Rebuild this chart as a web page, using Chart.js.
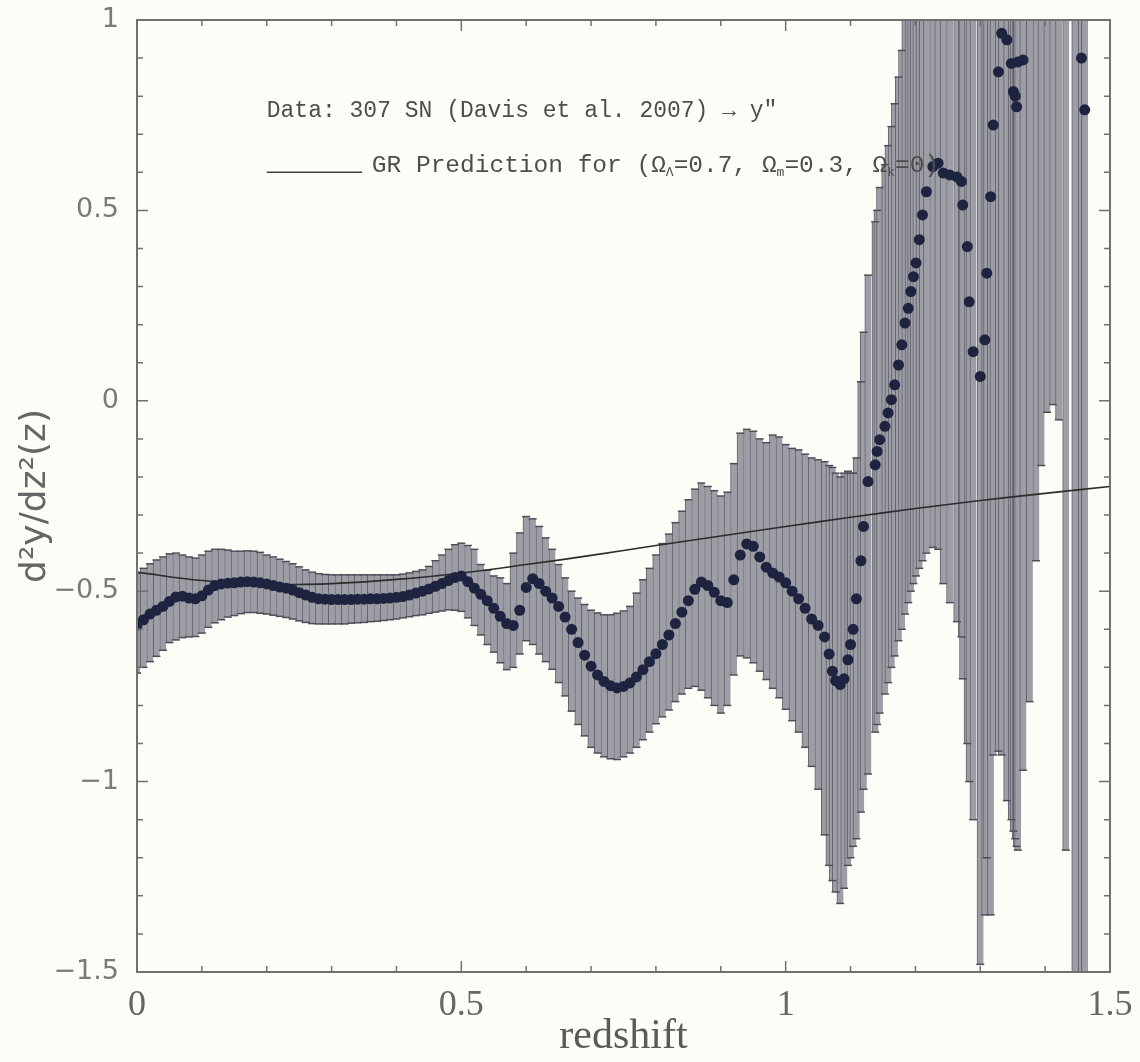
<!DOCTYPE html>
<html>
<head>
<meta charset="utf-8">
<script src="https://cdn.jsdelivr.net/npm/chart.js@4.4.1/dist/chart.umd.min.js"></script>
<style>
  html, body { margin: 0; padding: 0; background: #fdfdf8; }
  .box { width: 1140px; height: 1062px; position: relative; }
</style>
</head>
<body>
<div class="box"><canvas class="chr"></canvas></div>
<script>
// redshift of each SN bin
const zs = [
  0.00, 0.01, 0.02, 0.03, 0.04, 0.05, 0.06, 0.07, 0.08, 0.09,
  0.10, 0.11, 0.12, 0.13, 0.14, 0.15, 0.16, 0.17, 0.18, 0.19,
  0.20, 0.21, 0.22, 0.23, 0.24, 0.25, 0.26, 0.27, 0.28, 0.29,
  0.30, 0.31, 0.32, 0.33, 0.34, 0.35, 0.36, 0.37, 0.38, 0.39,
  0.40, 0.41, 0.42, 0.43, 0.44, 0.45, 0.46, 0.47, 0.48, 0.49,
  0.50, 0.51, 0.52, 0.53, 0.54, 0.55, 0.56, 0.57, 0.58, 0.59,
  0.60, 0.61, 0.62, 0.63, 0.64, 0.65, 0.66, 0.67, 0.68, 0.69,
  0.70, 0.71, 0.72, 0.73, 0.74, 0.75, 0.76, 0.77, 0.78, 0.79,
  0.80, 0.81, 0.82, 0.83, 0.84, 0.85, 0.86, 0.87, 0.88, 0.89,
  0.90, 0.91, 0.92, 0.93, 0.94, 0.95, 0.96, 0.97, 0.98, 0.99,
  1.00, 1.01, 1.02, 1.03, 1.04, 1.05,
  1.06, 1.067, 1.072, 1.077, 1.084, 1.09, 1.096, 1.10, 1.104, 1.109,
  1.116, 1.12, 1.127, 1.138, 1.141, 1.145, 1.153, 1.158, 1.163, 1.168,
  1.174, 1.179, 1.184, 1.189, 1.193, 1.197, 1.201, 1.206, 1.211, 1.217,
  1.227, 1.235, 1.243, 1.253, 1.264, 1.271, 1.273, 1.28, 1.283, 1.289,
  1.30, 1.307, 1.31, 1.316, 1.32, 1.328, 1.333, 1.341, 1.348, 1.351,
  1.354, 1.356, 1.358, 1.366, 1.376, 1.386, 1.394, 1.403, 1.412, 1.421,
  1.432, 1.446, 1.456, 1.461
];

// d2y/dz2 values (dots)
const mid = [
  -0.59, -0.575, -0.56, -0.55, -0.54, -0.527, -0.515, -0.513, -0.518, -0.52,
  -0.512, -0.497, -0.485, -0.481, -0.479, -0.478, -0.476, -0.475, -0.476, -0.478,
  -0.481, -0.485, -0.489, -0.492, -0.497, -0.504, -0.51, -0.516, -0.52, -0.521,
  -0.522, -0.522, -0.522, -0.522, -0.521, -0.521, -0.52, -0.52, -0.519, -0.518,
  -0.516, -0.514, -0.51, -0.505, -0.5, -0.494, -0.487, -0.48, -0.472, -0.464,
  -0.46, -0.475, -0.492, -0.508, -0.525, -0.545, -0.566, -0.585, -0.59, -0.55,
  -0.49, -0.467, -0.48, -0.5, -0.518, -0.54, -0.568, -0.6, -0.635, -0.668,
  -0.697, -0.72, -0.737, -0.748, -0.754, -0.75, -0.741, -0.725, -0.706, -0.685,
  -0.664, -0.64, -0.615, -0.585, -0.555, -0.525, -0.495, -0.476, -0.485, -0.503,
  -0.525, -0.53, -0.47, -0.405, -0.376, -0.382, -0.41, -0.437, -0.452, -0.463,
  -0.478, -0.5, -0.52, -0.545, -0.573, -0.59,
  -0.62, -0.665, -0.71, -0.735, -0.745, -0.73, -0.68, -0.64, -0.6, -0.52,
  -0.42, -0.33, -0.212, -0.168, -0.133, -0.102, -0.067, -0.032, 0.003, 0.042,
  0.094, 0.147, 0.204, 0.243, 0.287, 0.326, 0.362, 0.423, 0.488, 0.549,
  0.615, 0.624, 0.598, 0.593, 0.588, 0.576, 0.514, 0.405, 0.26, 0.129,
  0.064, 0.16, 0.335, 0.536, 0.724, 0.864, 0.965, 0.948, 0.886, 0.812,
  0.8, 0.772, 0.89, 0.895, 1.1, 1.2, 1.3, 1.4, 1.4, 1.3,
  1.3, 1.2, 0.9, 0.764
];

// lower end of each error bar
const lo = [
  -0.715, -0.7, -0.685, -0.671, -0.655, -0.635, -0.628, -0.622, -0.62, -0.619,
  -0.61, -0.595, -0.583, -0.575, -0.568, -0.564, -0.559, -0.556, -0.556, -0.558,
  -0.56, -0.563, -0.566, -0.569, -0.573, -0.578, -0.582, -0.585, -0.586, -0.586,
  -0.586, -0.586, -0.586, -0.584, -0.583, -0.582, -0.58, -0.579, -0.577, -0.575,
  -0.573, -0.57, -0.567, -0.564, -0.562, -0.558, -0.555, -0.552, -0.549, -0.55,
  -0.553, -0.57, -0.59, -0.615, -0.64, -0.66, -0.688, -0.706, -0.7, -0.665,
  -0.63, -0.64, -0.665, -0.685, -0.705, -0.74, -0.775, -0.815, -0.85, -0.88,
  -0.91, -0.925, -0.935, -0.94, -0.942, -0.935, -0.925, -0.91, -0.89, -0.87,
  -0.848, -0.83, -0.812, -0.79, -0.77, -0.755, -0.75, -0.76, -0.78, -0.8,
  -0.82, -0.8, -0.72, -0.67, -0.675, -0.688, -0.71, -0.732, -0.755, -0.78,
  -0.81, -0.84, -0.87, -0.91, -0.96, -1.02,
  -1.14, -1.22, -1.26, -1.29, -1.32, -1.28, -1.22, -1.2, -1.17, -1.15,
  -1.08, -1.02, -0.98, -0.87, -0.85, -0.82, -0.77, -0.74, -0.7, -0.67,
  -0.63, -0.6, -0.56, -0.53, -0.5, -0.48, -0.46, -0.44, -0.42, -0.4,
  -0.385, -0.39, -0.48, -0.53, -0.58, -0.62, -0.73, -0.9, -1.0, -1.1,
  -1.48, -1.35, -1.2, -1.35, -0.93, -0.92, -0.93, -1.05, -1.1, -1.13,
  -1.15, -1.17, -1.18, -0.97, -0.79, -0.42, -0.17, -0.03, -0.01, -0.05,
  -1.18, -1.6, -1.6, -1.6
];

// upper end of each error bar
const hi = [
  -0.452, -0.44, -0.428, -0.418, -0.41, -0.402, -0.4, -0.405, -0.41, -0.413,
  -0.405, -0.395, -0.39, -0.39, -0.392, -0.395, -0.395, -0.394, -0.395, -0.398,
  -0.405, -0.41, -0.416, -0.422, -0.428, -0.436, -0.444, -0.45, -0.454, -0.456,
  -0.457, -0.457, -0.457, -0.457, -0.457, -0.457, -0.457, -0.457, -0.457, -0.457,
  -0.457, -0.455, -0.452, -0.448, -0.444, -0.435, -0.42, -0.405, -0.39, -0.378,
  -0.374, -0.38, -0.39, -0.43, -0.445, -0.46, -0.465, -0.48, -0.4, -0.347,
  -0.304, -0.31, -0.33, -0.36, -0.39, -0.43, -0.465, -0.5, -0.518, -0.535,
  -0.55, -0.557, -0.562, -0.562, -0.558, -0.552, -0.54, -0.505, -0.47, -0.44,
  -0.405, -0.375, -0.35, -0.32, -0.29, -0.26, -0.232, -0.216, -0.225, -0.236,
  -0.25, -0.24, -0.165, -0.085, -0.075, -0.08, -0.1, -0.11, -0.09, -0.095,
  -0.115, -0.125, -0.129, -0.14, -0.15, -0.155,
  -0.16, -0.17, -0.175, -0.19, -0.2, -0.19, -0.185, -0.19, -0.19, -0.15,
  0.05, 0.18, 0.33, 0.47, 0.5, 0.56, 0.62, 0.67, 0.72, 0.78,
  0.85, 0.92, 1.3, 1.4, 1.5, 1.6, 1.6, 1.7, 1.8, 1.9,
  2.0, 2.0, 2.0, 2.0, 2.0, 2.0, 2.0, 2.0, 2.0, 2.0,
  2.0, 2.0, 2.0, 2.0, 2.0, 2.0, 2.0, 2.0, 2.0, 2.0,
  2.0, 2.0, 2.0, 2.0, 2.2, 2.4, 2.5, 2.6, 2.6, 2.5,
  2.5, 2.5, 2.4, 2.4
];

// GR prediction (flat LCDM)
const grZ = [0, 0.1, 0.2, 0.3, 0.4, 0.5, 0.6, 0.7, 0.8, 0.9, 1.0, 1.1, 1.2, 1.3, 1.4, 1.5];
const grY = [-0.45, -0.472, -0.482, -0.48, -0.469, -0.452, -0.43, -0.406, -0.38, -0.355, -0.33, -0.306, -0.283, -0.262, -0.243, -0.225];

// tick marks on the frame
const xTicks = [0, 0.1, 0.2, 0.3, 0.4, 0.5, 0.6, 0.7, 0.8, 0.9, 1.0, 1.1, 1.2, 1.3, 1.4, 1.5];
const yTicks = [-1.5, -1.4, -1.3, -1.2, -1.1, -1, -0.9, -0.8, -0.7, -0.6, -0.5, -0.4, -0.3, -0.2, -0.1,
  0, 0.1, 0.2, 0.3, 0.4, 0.5, 0.6, 0.7, 0.8, 0.9, 1];

const isMajor = v => Math.abs(v * 2 - Math.round(v * 2)) < 1e-9;

// box + inward ticks on all four sides
const frame = {
  id: 'frame',
  afterDatasetsDraw(chart) {
    const { ctx, chartArea: a, scales: { x, y } } = chart;
    ctx.save();
    ctx.strokeStyle = '#707070';
    ctx.lineWidth = 1.5;
    ctx.beginPath();
    xTicks.forEach(v => {
      const px = x.getPixelForValue(v);
      const len = isMajor(v) ? 11 : 6;
      ctx.moveTo(px, a.bottom); ctx.lineTo(px, a.bottom - len);
      ctx.moveTo(px, a.top); ctx.lineTo(px, a.top + len);
    });
    yTicks.forEach(v => {
      const py = y.getPixelForValue(v);
      const len = isMajor(v) ? 11 : 6;
      ctx.moveTo(a.left, py); ctx.lineTo(a.left + len, py);
      ctx.moveTo(a.right, py); ctx.lineTo(a.right - len, py);
    });
    ctx.stroke();
    ctx.lineWidth = 2;
    ctx.strokeRect(a.left, a.top, a.right - a.left, a.bottom - a.top);
    ctx.restore();
  }
};

// the key written inside the plot
const key = {
  id: 'key',
  afterDatasetsDraw(chart) {
    const { ctx, scales: { x, y } } = chart;
    ctx.save();
    ctx.fillStyle = '#4d4d4d';
    ctx.textBaseline = 'middle';
    ctx.font = '23px "Liberation Mono"';
    ctx.fillText('Data: 307 SN (Davis et al. 2007) \u2192 y\u2033', x.getPixelForValue(0.2), y.getPixelForValue(0.76));

    const ly = y.getPixelForValue(0.6);
    ctx.strokeStyle = '#404040';
    ctx.lineWidth = 1.6;
    ctx.beginPath();
    ctx.moveTo(x.getPixelForValue(0.2), ly);
    ctx.lineTo(x.getPixelForValue(0.347), ly);
    ctx.stroke();

    let px = x.getPixelForValue(0.362);
    const ty = y.getPixelForValue(0.617);
    const parts = [['GR Prediction for (\u03A9', 0], ['\u039B', 1], ['=0.7, \u03A9', 0], ['m', 1], ['=0.3, \u03A9', 0], ['k', 1], ['=0)', 0]];
    parts.forEach(([t, sub]) => {
      ctx.font = sub ? '13px "Liberation Mono"' : '24.5px "Liberation Mono"';
      ctx.fillText(t, px, sub ? ty + 7 : ty);
      px += ctx.measureText(t).width;
    });
    ctx.restore();
  }
};

const c = document.querySelector('.chr');
new Chart(c, {
  type: 'scatter',
  data: {
    datasets: [
      {
        label: 'SN',
        data: zs.map((z, i) => ({ x: z, y: mid[i] })),
        pointRadius: 5.5,
        pointBackgroundColor: '#1e2440',
        pointBorderWidth: 0,
        order: 0
      },
      {
        type: 'line',
        label: 'GR',
        data: grZ.map((z, i) => ({ x: z, y: grY[i] })),
        borderColor: '#2c2c2c',
        borderWidth: 1.6,
        pointRadius: 0,
        tension: 0.4,
        fill: false,
        order: 1
      },
      {
        label: 'upper cap',
        data: zs.map((z, i) => ({ x: z, y: hi[i] })),
        pointStyle: 'line',
        pointRadius: 4,
        borderColor: '#4e4e58',
        borderWidth: 1.5,
        clip: 0,
        order: 2
      },
      {
        label: 'lower cap',
        data: zs.map((z, i) => ({ x: z, y: lo[i] })),
        pointStyle: 'line',
        pointRadius: 4,
        borderColor: '#4e4e58',
        borderWidth: 1.5,
        clip: 0,
        order: 2
      },
      {
        type: 'bar',
        label: 'error',
        data: zs.map((z, i) => ({ x: z, y: [lo[i], hi[i]] })),
        barThickness: 6.5,
        backgroundColor: '#9d9da6',
        borderColor: '#63636d',
        borderWidth: { left: 1, right: 0, top: 0, bottom: 0 },
        borderSkipped: false,
        clip: 0,
        order: 3
      }
    ]
  },
  options: {
    responsive: true,
    maintainAspectRatio: false,
    animation: false,
    layout: { padding: { top: 20, right: 30, left: 0, bottom: 0 } },
    plugins: {
      legend: { display: false },
      tooltip: { enabled: false }
    },
    scales: {
      x: {
        type: 'linear',
        min: 0,
        max: 1.5,
        offset: false,
        grid: { display: false, drawTicks: false },
        border: { display: false },
        ticks: {
          stepSize: 0.5,
          padding: 12,
          color: '#666',
          font: { family: 'Liberation Serif', size: 36 },
          callback: v => String(v)
        },
        title: {
          display: true,
          text: 'redshift',
          color: '#5a5a5a',
          font: { family: 'Liberation Serif', size: 42 },
          padding: { top: 0, bottom: 0 }
        },
        afterFit: s => { s.height = 90; s.paddingLeft = 0; s.paddingRight = 0; }
      },
      y: {
        min: -1.5,
        max: 1,
        grid: { display: false, drawTicks: false },
        border: { display: false },
        ticks: {
          stepSize: 0.5,
          padding: 18,
          color: '#7a7a7a',
          font: { family: 'DejaVu Sans', size: 27 },
          callback: v => String(v).replace('-', '\u2212')
        },
        title: {
          display: true,
          text: 'd\u00B2y/dz\u00B2(z)',
          color: '#666',
          font: { family: 'DejaVu Sans', size: 36 },
          padding: { top: 14, bottom: 0 }
        },
        afterFit: s => { s.width = 137; s.paddingTop = 0; s.paddingBottom = 0; }
      }
    }
  },
  plugins: [frame, key]
});
</script>
</body>
</html>
